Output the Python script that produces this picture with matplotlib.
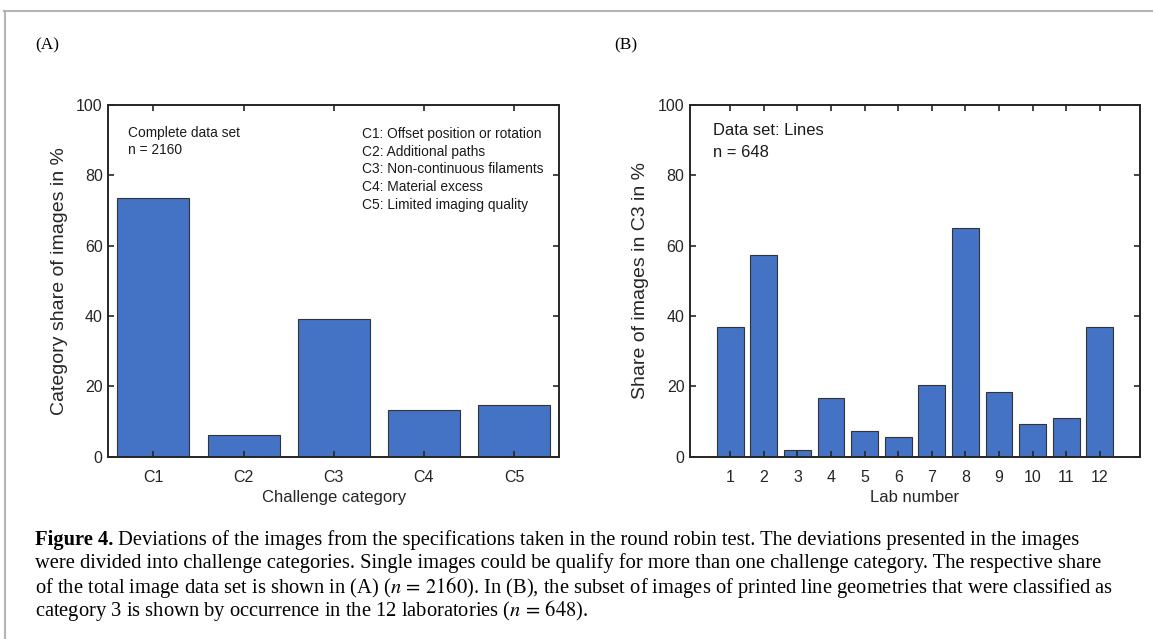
import numpy as np
import matplotlib
matplotlib.use('Agg')
import matplotlib.pyplot as plt
from matplotlib.lines import Line2D

# data
categories = ['C1', 'C2', 'C3', 'C4', 'C5']
category_share = [73.5, 6.2, 39.1, 13.3, 14.7]

labs = list(range(1, 13))
lab_share_c3 = [36.9, 57.4, 1.8, 16.6, 7.3, 5.5, 20.3, 64.9, 18.5, 9.3, 11.0, 36.9]

legend_lines = ['C1: Offset position or rotation',
                'C2: Additional paths',
                'C3: Non-continuous filaments',
                'C4: Material excess',
                'C5: Limited imaging quality']

caption_lines = [
    'Deviations of the images from the specifications taken in the round robin test. The deviations presented in the images',
    'were divided into challenge categories. Single images could be qualify for more than one challenge category. The respective share',
    'of the total image data set is shown in (A) ($n\\,{=}\\,2160$). In (B), the subset of images of printed line geometries that were classified as',
    'category 3 is shown by occurrence in the 12 laboratories ($n\\,{=}\\,648$).',
]

plt.rcParams['font.family'] = ['Liberation Sans', 'DejaVu Sans']
plt.rcParams['mathtext.fontset'] = 'stix'

bar_color = '#4472c4'
edge = '#333333'
spine = '#262626'

W, H = 1153, 639
fig = plt.figure(figsize=(W / 100, H / 100), dpi=100)


def style(ax):
    for s in ax.spines.values():
        s.set_linewidth(1.4)
        s.set_color(spine)
    ax.tick_params(direction='in', length=4, width=1.2, color=spine,
                   top=True, right=True, labelsize=11.5,
                   labelcolor='#262626')
    ax.tick_params(axis='y', pad=4)
    ax.tick_params(axis='x', pad=9.5)
    ax.set_ylim(0, 100)
    ax.set_yticks([0, 20, 40, 60, 80, 100])


# panel A
axA = fig.add_axes([108.3 / W, 1 - 456.7 / H, 451 / W, 352 / H])
xa = np.arange(1, len(categories) + 1)
axA.bar(xa, category_share, width=0.8, color=bar_color, edgecolor=edge, linewidth=0.8)
axA.set_xlim(0.5, 5.5)
style(axA)
axA.set_xticks(xa)
axA.set_xticklabels(categories)
axA.set_xlabel('Challenge category', fontsize=12, color='#262626', labelpad=4)
axA.set_ylabel('Category share of images in %', fontsize=14, color='#262626', labelpad=6)
axA.text(0.043, 0.92, 'Complete data set', transform=axA.transAxes, fontsize=9.9,
         va='center', color='#1a1a1a')
axA.text(0.043, 0.871, 'n = 2160', transform=axA.transAxes, fontsize=9.9,
         va='center', color='#1a1a1a')
for i, line in enumerate(legend_lines):
    axA.text(0.562, 0.917 - i * 0.0503, line, transform=axA.transAxes, fontsize=9.9,
             va='center', color='#1a1a1a')

# panel B
axB = fig.add_axes([690 / W, 1 - 456.7 / H, 450 / W, 352 / H])
axB.bar(labs, lab_share_c3, width=0.8, color=bar_color, edgecolor=edge, linewidth=0.8)
axB.set_xlim(-0.2, 13.2)
style(axB)
axB.set_xticks(labs)
axB.set_xlabel('Lab number', fontsize=12, color='#262626', labelpad=4)
axB.set_ylabel('Share of images in C3 in %', fontsize=14, color='#262626', labelpad=6)
axB.text(0.052, 0.928, 'Data set: Lines', transform=axB.transAxes, fontsize=11.9,
         va='center', color='#1a1a1a')
axB.text(0.052, 0.865, 'n = 648', transform=axB.transAxes, fontsize=11.9,
         va='center', color='#1a1a1a')

# panel labels
fig.text(35 / W, 1 - 45 / H, '(A)', family='Liberation Serif', fontsize=12.5, va='center')
fig.text(614 / W, 1 - 45 / H, '(B)', family='Liberation Serif', fontsize=12.5, va='center')

# frame lines
fig.add_artist(Line2D([4 / W, 1], [1 - 11 / H, 1 - 11 / H], transform=fig.transFigure,
                      color='#b4b4b4', lw=1.5))
fig.add_artist(Line2D([5 / W, 5 / W], [0, 1 - 11 / H], transform=fig.transFigure,
                      color='#b4b4b4', lw=1.5))

# caption
cap = fig.add_axes([0, 0, 1, 1])
cap.axis('off')
cap_y = [540, 563.5, 587, 610.5]
cap_size = 14.8
t1 = cap.text(35 / W, 1 - cap_y[0] / H, 'Figure 4.', family='Liberation Serif',
              weight='bold', fontsize=cap_size, va='center')
cap.annotate(' ' + caption_lines[0], xy=(1, 0.5), xycoords=t1, va='center',
             family='Liberation Serif', fontsize=cap_size)
for y, line in zip(cap_y[1:], caption_lines[1:]):
    cap.text(35 / W, 1 - y / H, line, family='Liberation Serif', fontsize=cap_size, va='center')

fig.savefig('out.png', dpi=100)
